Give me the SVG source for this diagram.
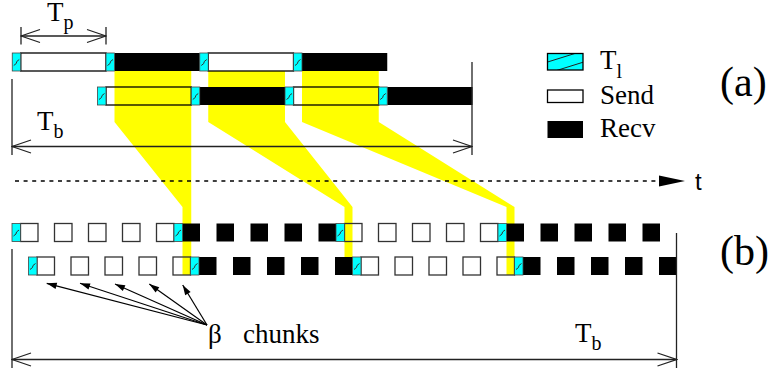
<svg xmlns="http://www.w3.org/2000/svg" width="773" height="375" viewBox="0 0 773 375">
  <style>
    .tl{fill:#00ffff;stroke:#444;stroke-width:0.8}
    .hatch{fill:none;stroke:#333;stroke-width:1}
    .send{fill:none;stroke:#000;stroke-width:1.3}
    .sendb{fill:none;stroke:#333;stroke-width:1.3}
    .recv{fill:#000}
    .band{fill:#ffff00}
    .dim{fill:none;stroke:#222;stroke-width:1.3}
    .axis{fill:none;stroke:#000;stroke-width:1.5;stroke-dasharray:4 4.6}
    .ptr{fill:none;stroke:#000;stroke-width:1.2}
    text{fill:#000}
  </style>
  <defs>
    <!-- latency block: cyan cell with a short hatch stroke -->
    <g id="tl">
      <rect class="tl" width="8.5" height="18"/>
      <path class="hatch" d="M1.5 12.5 L4 10.5 L4.5 8.5 L7 6.5"/>
    </g>
    <marker id="open" markerUnits="userSpaceOnUse" viewBox="-21 -8 22 16" markerWidth="22" markerHeight="16" refX="0" refY="0" orient="auto-start-reverse">
      <path d="M-19 -6.5 L0 0 L-19 6.5" fill="none" stroke="#222" stroke-width="1.3"/>
    </marker>
    <marker id="solid" markerUnits="userSpaceOnUse" viewBox="-11 -4 12 8" markerWidth="12" markerHeight="8" refX="0" refY="0" orient="auto">
      <path d="M0 0 L-10 -3.2 L-10 3.2 Z" fill="#000"/>
    </marker>
    <clipPath id="legclip"><rect x="547.5" y="53.5" width="35.5" height="16.5"/></clipPath>
  </defs>

  <!-- yellow mapping bands from the pipelined schedule down to the chunked schedule -->
  <g id="bands">
    <polygon class="band" points="114.5,71 191.25,71 191.25,275 182.5,275 182.5,207 114.5,122"/>
    <polygon class="band" points="208.25,71 285,71 285,122 352.5,207 352.5,275 344.5,275 344.5,207 208.25,122"/>
    <polygon class="band" points="302,71 378.75,71 378.75,122 514.5,207 514.5,275 506.5,275 506.5,207 302,122"/>
  </g>

  <!-- (a) first pipeline row -->
  <g id="row-a1">
    <rect class="send" x="20.75" y="53" width="85.25" height="18"/>
    <rect class="recv" x="114.5" y="53" width="85.25" height="18"/>
    <rect class="send" x="208.25" y="53" width="85.25" height="18"/>
    <rect class="recv" x="302" y="53" width="85.25" height="18"/>
    <use href="#tl" x="12.25" y="53"/>
    <use href="#tl" x="106" y="53"/>
    <use href="#tl" x="199.75" y="53"/>
    <use href="#tl" x="293.5" y="53"/>
  </g>

  <!-- (a) second pipeline row -->
  <g id="row-a2">
    <rect class="send" x="106" y="87" width="85.25" height="18"/>
    <rect class="recv" x="199.75" y="87" width="85.25" height="18"/>
    <rect class="send" x="293.5" y="87" width="85.25" height="18"/>
    <rect class="recv" x="387.25" y="87" width="85.25" height="18"/>
    <use href="#tl" x="97.5" y="87"/>
    <use href="#tl" x="191.25" y="87"/>
    <use href="#tl" x="285" y="87"/>
    <use href="#tl" x="378.75" y="87"/>
  </g>

  <!-- (b) first chunked row -->
  <g id="row-b1">
    <rect class="sendb" x="20.5" y="223.5" width="17.5" height="18"/>
    <rect class="sendb" x="54.5" y="223.5" width="17.5" height="18"/>
    <rect class="sendb" x="88.5" y="223.5" width="17.5" height="18"/>
    <rect class="sendb" x="122.5" y="223.5" width="17.5" height="18"/>
    <rect class="sendb" x="156.5" y="223.5" width="17.5" height="18"/>
    <rect class="recv" x="182.5" y="223.5" width="17.5" height="18"/>
    <rect class="recv" x="216.5" y="223.5" width="17.5" height="18"/>
    <rect class="recv" x="250.5" y="223.5" width="17.5" height="18"/>
    <rect class="recv" x="284.5" y="223.5" width="17.5" height="18"/>
    <rect class="recv" x="318.5" y="223.5" width="17.5" height="18"/>
    <rect class="sendb" x="344.5" y="223.5" width="17.5" height="18"/>
    <rect class="sendb" x="378.5" y="223.5" width="17.5" height="18"/>
    <rect class="sendb" x="412.5" y="223.5" width="17.5" height="18"/>
    <rect class="sendb" x="446.5" y="223.5" width="17.5" height="18"/>
    <rect class="sendb" x="480.5" y="223.5" width="17.5" height="18"/>
    <rect class="recv" x="506.5" y="223.5" width="17.5" height="18"/>
    <rect class="recv" x="540.5" y="223.5" width="17.5" height="18"/>
    <rect class="recv" x="574.5" y="223.5" width="17.5" height="18"/>
    <rect class="recv" x="608.5" y="223.5" width="17.5" height="18"/>
    <rect class="recv" x="642.5" y="223.5" width="17.5" height="18"/>
    <use href="#tl" x="12" y="223.5"/>
    <use href="#tl" x="174" y="223.5"/>
    <use href="#tl" x="336" y="223.5"/>
    <use href="#tl" x="498" y="223.5"/>
  </g>

  <!-- (b) second chunked row -->
  <g id="row-b2">
    <rect class="sendb" x="37" y="257" width="17.5" height="18"/>
    <rect class="sendb" x="71" y="257" width="17.5" height="18"/>
    <rect class="sendb" x="105" y="257" width="17.5" height="18"/>
    <rect class="sendb" x="139" y="257" width="17.5" height="18"/>
    <rect class="sendb" x="173" y="257" width="17.5" height="18"/>
    <rect class="recv" x="199" y="257" width="17.5" height="18"/>
    <rect class="recv" x="233" y="257" width="17.5" height="18"/>
    <rect class="recv" x="267" y="257" width="17.5" height="18"/>
    <rect class="recv" x="301" y="257" width="17.5" height="18"/>
    <rect class="recv" x="335" y="257" width="17.5" height="18"/>
    <rect class="sendb" x="361" y="257" width="17.5" height="18"/>
    <rect class="sendb" x="395" y="257" width="17.5" height="18"/>
    <rect class="sendb" x="429" y="257" width="17.5" height="18"/>
    <rect class="sendb" x="463" y="257" width="17.5" height="18"/>
    <rect class="sendb" x="497" y="257" width="17.5" height="18"/>
    <rect class="recv" x="523" y="257" width="17.5" height="18"/>
    <rect class="recv" x="557" y="257" width="17.5" height="18"/>
    <rect class="recv" x="591" y="257" width="17.5" height="18"/>
    <rect class="recv" x="625" y="257" width="17.5" height="18"/>
    <rect class="recv" x="659" y="257" width="17.5" height="18"/>
    <use href="#tl" x="28.5" y="257"/>
    <use href="#tl" x="190.5" y="257"/>
    <use href="#tl" x="352.5" y="257"/>
    <use href="#tl" x="514.5" y="257"/>
  </g>

  <!-- legend -->
  <g id="legend" font-family="'Liberation Serif', 'DejaVu Serif', serif" font-size="27">
    <rect x="547.5" y="53.5" width="35.5" height="16.5" fill="#00ffff"/>
    <g clip-path="url(#legclip)" stroke="#222" stroke-width="1">
      <line x1="546" y1="62.5" x2="578" y2="52.5"/>
      <line x1="555" y1="71" x2="586" y2="61.3"/>
    </g>
    <rect x="547.5" y="53.5" width="35.5" height="16.5" fill="none" stroke="#000" stroke-width="1.3"/>
    <rect x="547.5" y="90" width="35.5" height="12.5" fill="#fff" stroke="#000" stroke-width="1.3"/>
    <rect x="547.5" y="121" width="35.5" height="17" fill="#000"/>
    <text x="600" y="68.5">T<tspan font-size="20" dy="9.5">l</tspan></text>
    <text x="600" y="104">Send</text>
    <text x="600" y="137">Recv</text>
  </g>

  <!-- dimension lines, time axis and chunk pointers -->
  <g id="connectors">
    <line class="dim" x1="21" y1="27" x2="21" y2="44.5"/>
    <line class="dim" x1="106" y1="27" x2="106" y2="44.5"/>
    <line class="dim" x1="21" y1="36" x2="106" y2="36" marker-start="url(#open)" marker-end="url(#open)"/>

    <line class="dim" x1="12" y1="79" x2="12" y2="155"/>
    <line class="dim" x1="472" y1="62" x2="472" y2="155"/>
    <line class="dim" x1="12" y1="146.5" x2="472" y2="146.5" marker-start="url(#open)" marker-end="url(#open)"/>

    <line class="axis" x1="15" y1="181" x2="659" y2="181"/>
    <polygon points="659,175.5 685,181 659,186.5" fill="#000"/>

    <line class="dim" x1="12" y1="249" x2="12" y2="368"/>
    <line class="dim" x1="676.5" y1="233" x2="676.5" y2="368"/>
    <line class="dim" x1="12" y1="359.5" x2="676.5" y2="359.5" marker-start="url(#open)" marker-end="url(#open)"/>

    <line class="ptr" x1="207" y1="325" x2="46.7" y2="283.3" marker-end="url(#solid)"/>
    <line class="ptr" x1="207" y1="325" x2="80" y2="283.3" marker-end="url(#solid)"/>
    <line class="ptr" x1="207" y1="325" x2="115" y2="284" marker-end="url(#solid)"/>
    <line class="ptr" x1="207" y1="325" x2="149.3" y2="284" marker-end="url(#solid)"/>
    <line class="ptr" x1="207" y1="325" x2="182.7" y2="285" marker-end="url(#solid)"/>
  </g>

  <!-- labels -->
  <g id="labels" font-family="'Liberation Serif', 'DejaVu Serif', serif" font-size="27">
    <text x="47" y="21">T<tspan font-size="20" dy="8">p</tspan></text>
    <text x="37" y="130">T<tspan font-size="20" dy="8">b</tspan></text>
    <text x="720" y="96" font-size="42">(a)</text>
    <text x="695" y="190" font-family="'Liberation Sans', Arial, sans-serif" font-size="24">t</text>
    <text x="720" y="265" font-size="42">(b)</text>
    <text y="343"><tspan x="208">β</tspan><tspan x="243">chunks</tspan></text>
    <text x="575" y="342">T<tspan font-size="20" dy="8">b</tspan></text>
  </g>
</svg>
